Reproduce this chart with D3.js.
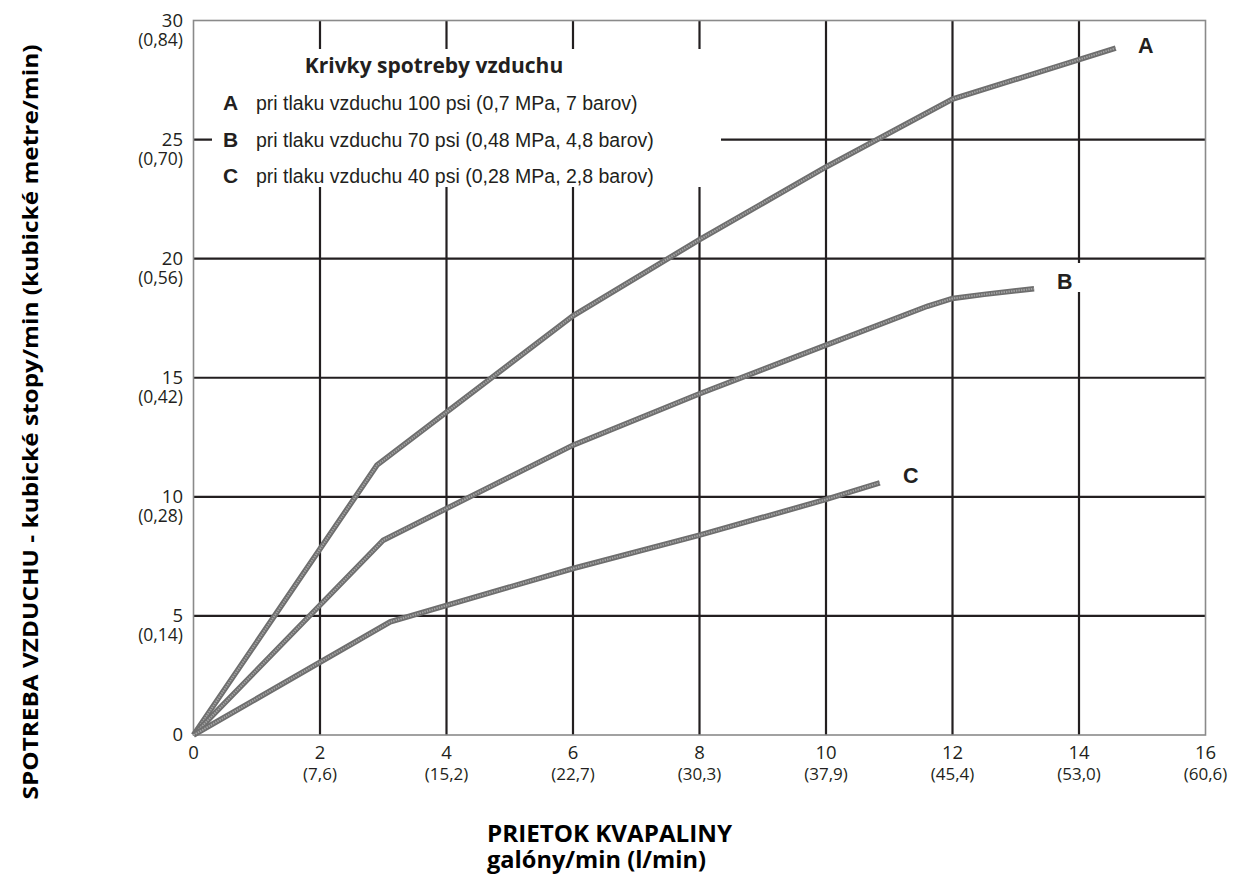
<!DOCTYPE html>
<html>
<head>
<meta charset="utf-8">
<script src="https://cdn.jsdelivr.net/npm/d3@7"></script>
<style>
  body { margin: 0; background: #fff; }
</style>
</head>
<body>
<div id="chart"></div>
<script>
// tick values and labels
var gpmTicks = [0, 2, 4, 6, 8, 10, 12, 14, 16];
var lpmLabels = ["", "(7,6)", "(15,2)", "(22,7)", "(30,3)", "(37,9)", "(45,4)", "(53,0)", "(60,6)"];
var cfmTicks = [0, 5, 10, 15, 20, 25, 30];
var m3Labels = ["", "(0,14)", "(0,28)", "(0,42)", "(0,56)", "(0,70)", "(0,84)"];

// curves: [gal/min, cfm]
var curveA = [[0, 0], [2.9, 11.33], [6, 17.6], [8, 20.8], [10, 23.85], [12, 26.7], [14.58, 28.84]];
var curveB = [[0, 0], [3, 8.18], [6, 12.17], [8, 14.33], [10, 16.37], [11.6, 18.0], [12, 18.33], [12.5, 18.5], [13.29, 18.74]];
var curveC = [[0, 0], [3.11, 4.75], [6, 6.99], [8, 8.39], [10, 9.89], [10.85, 10.59]];

var legendTitle = "Krivky spotreby vzduchu";
var legendKeys = ["A", "B", "C"];
var legendTexts = [
  "pri tlaku vzduchu 100 psi (0,7 MPa, 7 barov)",
  "pri tlaku vzduchu 70 psi (0,48 MPa, 4,8 barov)",
  "pri tlaku vzduchu 40 psi (0,28 MPa, 2,8 barov)"
];

var W = 1233, H = 877;
var margin = {top: 20.5, right: 27.5, bottom: 142, left: 193.5},
    width = W - margin.left - margin.right,
    height = H - margin.top - margin.bottom;

var svg = d3.select("#chart")
  .append("svg")
    .attr("width", W)
    .attr("height", H);

var g = svg.append("g")
    .attr("transform", "translate(" + margin.left + "," + margin.top + ")");

var x = d3.scaleLinear().domain([0, 16]).range([0, width]);
var y = d3.scaleLinear().domain([0, 30]).range([height, 0]);

// grid lines
g.append("g").selectAll("line.vx")
  .data(gpmTicks.slice(1, -1))
  .enter().append("line")
    .attr("x1", function(d) { return x(d); })
    .attr("x2", function(d) { return x(d); })
    .attr("y1", 0).attr("y2", height)
    .attr("stroke", "#231f20").attr("stroke-width", 2.2);
g.append("g").selectAll("line.hy")
  .data(cfmTicks.slice(1, -1))
  .enter().append("line")
    .attr("x1", 0).attr("x2", width)
    .attr("y1", function(d) { return y(d); })
    .attr("y2", function(d) { return y(d); })
    .attr("stroke", "#231f20").attr("stroke-width", 2.2);

// white gaps for legend and label B
svg.append("rect").attr("x", 212).attr("y", 49).attr("width", 509).attr("height", 138).attr("fill", "#fff");
svg.append("rect").attr("x", 1070).attr("y", 263).attr("width", 20).attr("height", 29).attr("fill", "#fff");

// frame
g.append("rect")
  .attr("width", width).attr("height", height)
  .attr("fill", "none").attr("stroke", "#8a8a8a").attr("stroke-width", 1.6);

// curves
var line = d3.line()
  .x(function(d) { return x(d[0]); })
  .y(function(d) { return y(d[1]); });

[curveA, curveB, curveC].forEach(function(c) {
  g.append("path").datum(c)
    .attr("d", line)
    .attr("fill", "none")
    .attr("stroke", "#6e6e6e")
    .attr("stroke-width", 5.5);
  g.append("path").datum(c)
    .attr("d", line)
    .attr("fill", "none")
    .attr("stroke", "#a2a2a2")
    .attr("stroke-width", 2)
    .attr("stroke-dasharray", "1.5,1");
});

// curve labels
var labelFont = "'Liberation Sans', Arial, sans-serif";
[["A", 1138, 53], ["B", 1057, 289], ["C", 903, 483]].forEach(function(l) {
  svg.append("text")
    .attr("x", l[1]).attr("y", l[2])
    .attr("font-family", labelFont).attr("font-weight", "bold")
    .attr("font-size", 21.5).attr("fill", "#231f20")
    .text(l[0]);
});

// x axis labels
var tickFont = "'Open Sans', 'Noto Sans', sans-serif";
var xl = svg.append("g").selectAll("g")
  .data(gpmTicks)
  .enter().append("g")
    .attr("transform", function(d) { return "translate(" + (margin.left + x(d)) + ",0)"; });
xl.append("text")
  .attr("y", 759).attr("text-anchor", "middle")
  .attr("font-family", tickFont).attr("font-size", 18.5).attr("fill", "#231f20")
  .text(function(d) { return d; });
xl.append("text")
  .attr("y", 780).attr("text-anchor", "middle")
  .attr("font-family", tickFont).attr("font-size", 17).attr("fill", "#231f20")
  .text(function(d, i) { return lpmLabels[i]; });

// y axis labels
var yl = svg.append("g").selectAll("g")
  .data(cfmTicks)
  .enter().append("g")
    .attr("transform", function(d) { return "translate(183," + (margin.top + y(d)) + ")"; });
yl.append("text")
  .attr("y", 6).attr("text-anchor", "end")
  .attr("font-family", tickFont).attr("font-size", 18.5).attr("fill", "#231f20")
  .text(function(d) { return d; });
yl.append("text")
  .attr("y", 25).attr("text-anchor", "end")
  .attr("font-family", tickFont).attr("font-size", 17.5).attr("fill", "#231f20")
  .text(function(d, i) { return m3Labels[i]; });

// legend
svg.append("text")
  .attr("x", 434).attr("y", 73).attr("text-anchor", "middle")
  .attr("font-family", tickFont).attr("font-weight", "bold")
  .attr("font-size", 21).attr("fill", "#231f20")
  .text(legendTitle);
legendKeys.forEach(function(k, i) {
  var by = 110 + i * 36.5;
  svg.append("text")
    .attr("x", 223).attr("y", by)
    .attr("font-family", labelFont).attr("font-weight", "bold")
    .attr("font-size", 21).attr("fill", "#231f20")
    .text(k);
  svg.append("text")
    .attr("x", 256).attr("y", by)
    .attr("font-family", labelFont)
    .attr("font-size", 19.5).attr("fill", "#231f20")
    .text(legendTexts[i]);
});

// axis titles
svg.append("text")
  .attr("x", 487).attr("y", 842)
  .attr("font-family", tickFont).attr("font-weight", "bold")
  .attr("font-size", 24).attr("fill", "#000")
  .attr("textLength", 245).attr("lengthAdjust", "spacingAndGlyphs")
  .text("PRIETOK KVAPALINY");
svg.append("text")
  .attr("x", 487).attr("y", 868)
  .attr("font-family", tickFont).attr("font-weight", "bold")
  .attr("font-size", 24).attr("fill", "#000")
  .attr("textLength", 219).attr("lengthAdjust", "spacingAndGlyphs")
  .text("galóny/min (l/min)");
svg.append("text")
  .attr("transform", "translate(38,422) rotate(-90)")
  .attr("text-anchor", "middle")
  .attr("font-family", tickFont).attr("font-weight", "bold")
  .attr("font-size", 22).attr("fill", "#000")
  .attr("textLength", 755).attr("lengthAdjust", "spacingAndGlyphs")
  .text("SPOTREBA VZDUCHU - kubické stopy/min (kubické metre/min)");
</script>
</body>
</html>
